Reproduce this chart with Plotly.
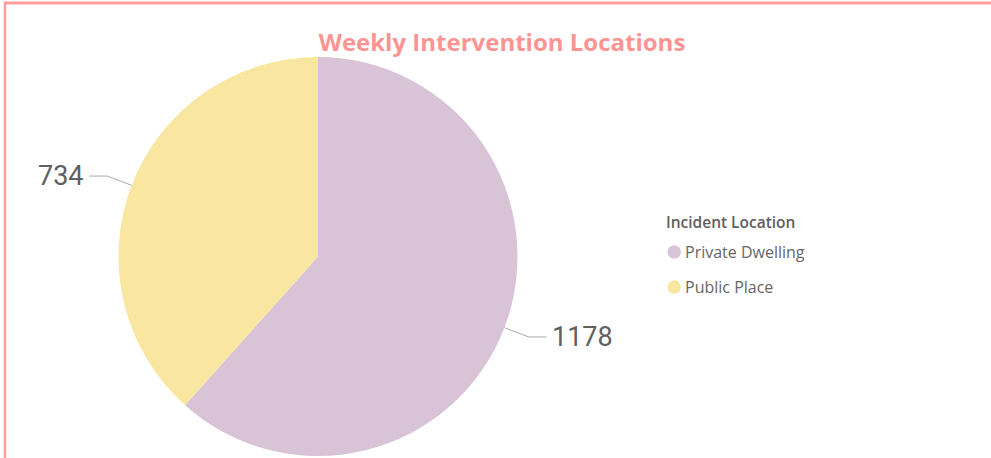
import math
import plotly.graph_objects as go

# ---- data ----
categories = ["Private Dwelling", "Public Place"]
values = [1178, 734]
colors = ["#D9C3D6", "#F9E7A1"]
title_text = "Weekly Intervention Locations"
legend_title = "Incident Location"

W, H = 991, 458
CX, CY, R = 318, 256.5, 199.5

def px(x):
    return x / W

def py(y):
    return 1 - y / H

fig = go.Figure()
fig.add_trace(go.Pie(
    labels=categories, values=values, sort=False, direction="clockwise",
    rotation=0, marker=dict(colors=colors, line=dict(width=0)),
    textinfo="none", hoverinfo="label+value", showlegend=False,
    domain=dict(x=[px(CX - R), px(CX + R)], y=[py(CY + R), py(CY - R)]),
))

shapes = []
annotations = []

# outside labels with leader lines computed from slice angles
total = sum(values)
start = 0.0
for v in values:
    frac = v / total
    mid = (start + frac / 2) * 2 * math.pi
    start += frac
    sx, sy = math.sin(mid), -math.cos(mid)
    x0, y0 = CX + R * sx, CY + R * sy
    x1, y1 = CX + (R + 26) * sx, CY + (R + 26) * sy
    side = 1 if sx >= 0 else -1
    x2 = x1 + side * 18
    for (a, b, c, d) in [(x0, y0, x1, y1), (x1, y1, x2, y1)]:
        shapes.append(dict(type="line", xref="paper", yref="paper",
                           x0=px(a), y0=py(b), x1=px(c), y1=py(d),
                           line=dict(color="#aaaaaa", width=1)))
    annotations.append(dict(
        x=px(x2 + side * 3), y=py(y1), xref="paper", yref="paper",
        text=str(v), showarrow=False,
        xanchor="left" if side > 0 else "right", yanchor="middle",
        font=dict(family="Roboto", size=27, color="#606060"),
    ))

# legend (drawn manually so markers are circles close to the text)
LX, LY0, LSTEP = 666, 222, 35
annotations.append(dict(
    x=px(LX - 2), y=py(LY0), xref="paper", yref="paper",
    text=legend_title, showarrow=False, xanchor="left", yanchor="middle",
    font=dict(family="Open Sans SemiBold, Open Sans", size=15.5, color="#606060"),
))
for i, (cat, col) in enumerate(zip(categories, colors)):
    yy = LY0 + 30 + i * LSTEP
    shapes.append(dict(type="circle", xref="paper", yref="paper",
                       x0=px(667.5), x1=px(681), y0=py(yy - 6.8), y1=py(yy + 6.8),
                       fillcolor=col, line=dict(width=0)))
    annotations.append(dict(
        x=px(683), y=py(yy), xref="paper", yref="paper",
        text=cat, showarrow=False, xanchor="left", yanchor="middle",
        font=dict(family="Open Sans", size=16, color="#666666"),
    ))

# frame lines
shapes.append(dict(type="line", xref="paper", yref="paper",
                   x0=px(4), y0=py(3), x1=1, y1=py(3),
                   line=dict(color="#FF9E9E", width=3)))
shapes.append(dict(type="line", xref="paper", yref="paper",
                   x0=px(5), y0=py(1.5), x1=px(5), y1=0,
                   line=dict(color="#FF9E9E", width=2.5)))

fig.update_layout(
    width=W, height=H,
    margin=dict(l=0, r=0, t=0, b=0),
    paper_bgcolor="white", plot_bgcolor="white",
    showlegend=False,
    title=dict(text=f"<b>{title_text}</b>", x=px(502), y=py(43),
               xanchor="center", yanchor="middle",
               font=dict(family="Open Sans", size=24, color="#FD9494")),
    shapes=shapes, annotations=annotations,
)

fig.write_html("out.html", config={"displayModeBar": False},
               post_script="document.body.style.margin='0';document.body.style.overflow='hidden';")
